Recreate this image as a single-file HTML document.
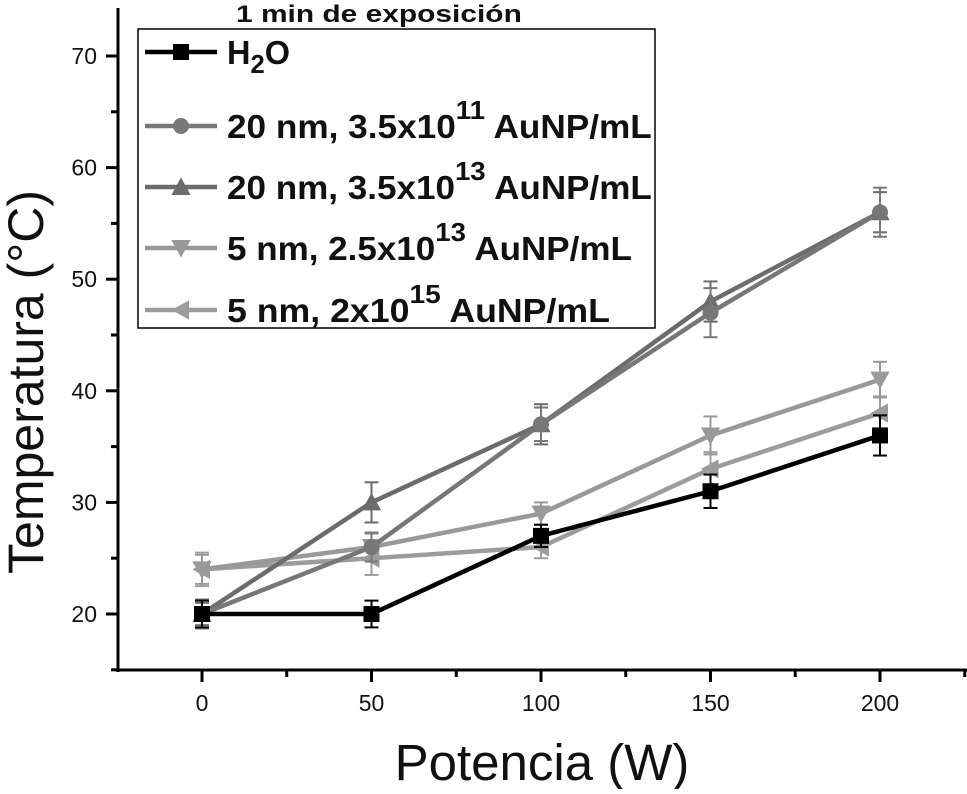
<!DOCTYPE html>
<html><head><meta charset="utf-8"><style>
body{margin:0;background:#fff;width:967px;height:789px;overflow:hidden}
svg text{font-family:"Liberation Sans",Arial,sans-serif}
</style></head><body>
<svg id="c" width="967" height="789">
<g id="axes"></g><g id="series"></g><g id="legend"></g>
</svg>
<script>
const xValues=[0,50,100,150,200];
const seriesNames=["H2O","20 nm, 3.5x10^11","20 nm, 3.5x10^13","5 nm, 2.5x10^13","5 nm, 2x10^15"];
const h2o=[20,20,27,31,36];
const h2oErr=[1.2,1.2,1,1.5,1.8];
const np20a=[20,26,37,47,56];
const np20aErr=[1.3,1.3,1.5,2.2,2.2];
const np20b=[20,30,37,48,56];
const np20bErr=[1,1.8,1.8,1.8,1.8];
const np5a=[24,26,29,36,41];
const np5aErr=[1.3,1.2,1,1.7,1.6];
const np5b=[24,25,26,33,38];
const np5bErr=[1.5,1.5,1,1.5,1.5];
const xTicks=[0,50,100,150,200];
const yTicks=[20,30,40,50,60,70];

const NS="http://www.w3.org/2000/svg";
const X=v=>202+v*3.39;
const Y=v=>614-(v-20)*11.16;
function mk(p,t,a){const e=document.createElementNS(NS,t);for(const k in a)e.setAttribute(k,a[k]);p.appendChild(e);return e;}
function fitW(el,x,y,w){const bw=el.getBBox().width;el.setAttribute('transform',`translate(${x},${y}) scale(${w/bw},1)`);}
const ax=document.getElementById('axes');
let l=mk(ax,'line',{x1:118,y1:8,x2:118,y2:672,stroke:'#000','stroke-width':3});


l=mk(ax,'line',{x1:116,y1:670,x2:967,y2:670,stroke:'#000','stroke-width':3});


for(let v=-25;v<=225;v+=25){const x=X(v);if(x<118||x>966)continue;mk(ax,'line',{x1:x,y1:670,x2:x,y2:v%50===0?682:677,stroke:'#000','stroke-width':3});}
xTicks.forEach(v=>{const t=mk(ax,'text',{x:X(v),y:711,'text-anchor':'middle','font-size':23,fill:'#111'});t.textContent=v;

});
for(let v=15;v<=70;v+=5){mk(ax,'line',{x1:v%10===0?106:111,y1:Y(v),x2:118,y2:Y(v),stroke:'#000','stroke-width':3});}
yTicks.forEach(v=>{const t=mk(ax,'text',{x:97,y:Y(v)+8,'text-anchor':'end','font-size':23,fill:'#111'});t.textContent=v;

});
let t=mk(ax,'text',{x:542,y:780,'text-anchor':'middle','font-size':51,fill:'#111'});t.textContent='Potencia (W)';


t=mk(ax,'text',{x:0,y:0,'text-anchor':'middle','font-size':50,fill:'#111',transform:'translate(43,382) rotate(-90)'});t.textContent='Temperatura (°C)';


t=mk(ax,'text',{x:0,y:0,'font-size':24,'font-weight':'bold',fill:'#111'});t.textContent='1 min de exposición';


fitW(t,236,22,286);

function marker(g,type,x,y,c,s){
 if(type==='sq')mk(g,'rect',{x:x-s,y:y-s,width:2*s,height:2*s,fill:c});
 else if(type==='ci')mk(g,'circle',{cx:x,cy:y,r:s,fill:c});
 else if(type==='up')mk(g,'polygon',{points:`${x},${y-s*1.2} ${x-s*1.2},${y+s} ${x+s*1.2},${y+s}`,fill:c});
 else if(type==='dn')mk(g,'polygon',{points:`${x},${y+s*1.2} ${x-s*1.2},${y-s} ${x+s*1.2},${y-s}`,fill:c});
 else mk(g,'polygon',{points:`${x-s*1.2},${y} ${x+s},${y-s*1.2} ${x+s},${y+s*1.2}`,fill:c});
}
const defs=[[h2o,h2oErr,'#000','sq','series-h2o'],[np20a,np20aErr,'#777','ci','series-20nm-3.5e11'],[np20b,np20bErr,'#6c6c6c','up','series-20nm-3.5e13'],[np5a,np5aErr,'#999','dn','series-5nm-2.5e13'],[np5b,np5bErr,'#9c9c9c','lt','series-5nm-2e15']];
const sg=document.getElementById('series');
defs.slice().reverse().forEach(([d,e,c,m,n])=>{
 const g=mk(sg,'g',{});
 
 
 d.forEach((v,i)=>{const x=X(xValues[i]);mk(g,'line',{x1:x,y1:Y(v-e[i]),x2:x,y2:Y(v+e[i]),stroke:c,'stroke-width':2});
  [v-e[i],v+e[i]].forEach(w=>mk(g,'line',{x1:x-7,y1:Y(w),x2:x+7,y2:Y(w),stroke:c,'stroke-width':2}));});
 mk(g,'polyline',{points:d.map((v,i)=>X(xValues[i])+','+Y(v)).join(' '),fill:'none',stroke:c,'stroke-width':4.5});
 d.forEach((v,i)=>marker(g,m,X(xValues[i]),Y(v),c,8));
});
const lg=document.getElementById('legend');
const box=mk(lg,'rect',{x:138,y:29,width:517,height:299,fill:'#fff',stroke:'#000','stroke-width':1.5});


const labels=[['H','2','O',''],['20 nm, 3.5x10','11',' AuNP/mL','sup'],['20 nm, 3.5x10','13',' AuNP/mL','sup'],['5 nm, 2.5x10','13',' AuNP/mL','sup'],['5 nm, 2x10','15',' AuNP/mL','sup']];
const ly=[52,126,187,248,310];
const lw=[63,425,425,405,383];
defs.forEach(([d,e,c,m,n],i)=>{
 const g=mk(lg,'g',{});
 
 
 mk(g,'line',{x1:145,y1:ly[i],x2:217,y2:ly[i],stroke:c,'stroke-width':4.5});
 marker(g,m,181,ly[i],c,8);
 const tx=mk(g,'text',{x:0,y:0,'font-size':33,'font-weight':'bold',fill:'#111'});
 const [a,b,z,s]=labels[i];
 const s1=mk(tx,'tspan',{});s1.textContent=a;
 const s2=mk(tx,'tspan',{'font-size':26,dy:s?-19:9});s2.textContent=b;
 const s3=mk(tx,'tspan',{dy:s?19:-9});s3.textContent=z;
 fitW(tx,227,ly[i]+12,lw[i]);
});
</script>
</body></html>
